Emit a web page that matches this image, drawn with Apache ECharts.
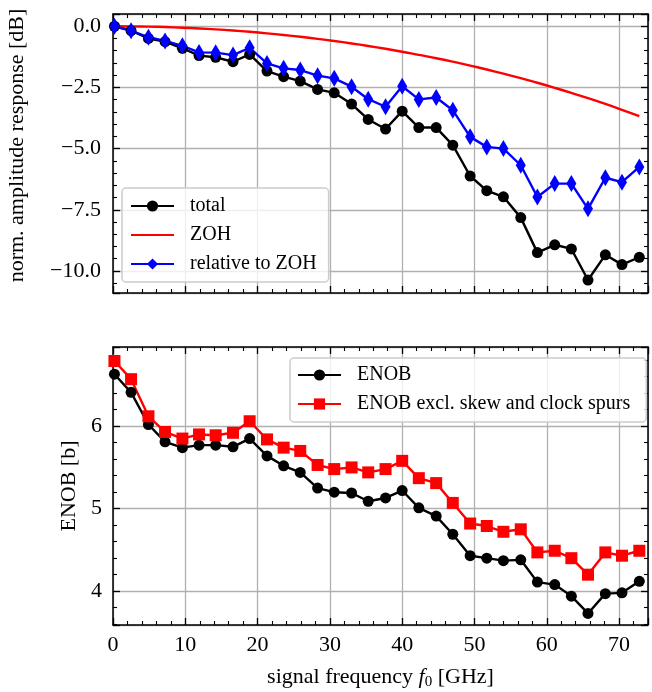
<!DOCTYPE html>
<html>
<head>
<meta charset="utf-8">
<script src="https://cdn.jsdelivr.net/npm/echarts@6/dist/echarts.min.js"></script>
<style>
  html, body { margin: 0; padding: 0; background: #fff; }
  #chart { width: 652px; height: 692px; }
</style>
</head>
<body>
<div id="chart"></div>
<script>
// ---- data ----
const freqGHz = [0.2, 2.5, 4.9, 7.2, 9.6, 11.9, 14.2, 16.6, 18.9, 21.3, 23.6, 25.9, 28.3, 30.6, 33.0, 35.3,
                 37.7, 40.0, 42.3, 44.7, 47.0, 49.4, 51.7, 54.0, 56.4, 58.7, 61.1, 63.4, 65.7, 68.1, 70.4, 72.8];

const totalDB = [0.0, -0.18, -0.5, -0.63, -0.9, -1.2, -1.27, -1.45, -1.15, -1.83, -2.06, -2.24, -2.58, -2.72, -3.18, -3.81,
                 -4.2, -3.47, -4.14, -4.14, -4.86, -6.12, -6.72, -6.97, -7.82, -9.25, -8.93, -9.1, -10.37, -9.34, -9.74, -9.44];

const zohDB = [0.0, -0.004, -0.015, -0.033, -0.059, -0.09, -0.128, -0.175, -0.228, -0.29, -0.357, -0.43, -0.515, -0.603, -0.703, -0.806,
               -0.922, -1.042, -1.171, -1.307, -1.449, -1.608, -1.769, -1.938, -2.12, -2.31, -2.516, -2.722, -2.938, -3.175, -3.415, -3.672];

const relativeDB = [0.0, -0.18, -0.45, -0.6, -0.8, -1.07, -1.08, -1.18, -0.88, -1.52, -1.72, -1.79, -2.02, -2.13, -2.47, -2.98,
                    -3.29, -2.45, -2.99, -2.91, -3.43, -4.52, -4.93, -5.0, -5.68, -6.98, -6.43, -6.43, -7.46, -6.19, -6.37, -5.75];

const enob = [6.63, 6.41, 6.02, 5.81, 5.74, 5.77, 5.77, 5.75, 5.85, 5.64, 5.52, 5.44, 5.25, 5.2, 5.19, 5.09,
              5.13, 5.22, 5.01, 4.91, 4.69, 4.43, 4.4, 4.37, 4.38, 4.11, 4.08, 3.94, 3.73, 3.97, 3.98, 4.12];

const enobExcl = [6.79, 6.57, 6.12, 5.93, 5.85, 5.9, 5.89, 5.92, 6.06, 5.84, 5.74, 5.7, 5.53, 5.48, 5.5, 5.44,
                  5.48, 5.58, 5.37, 5.31, 5.07, 4.82, 4.79, 4.72, 4.75, 4.47, 4.49, 4.4, 4.2, 4.47, 4.43, 4.49];

const seriesNamesTop = ['total', 'ZOH', 'relative to ZOH'];
const seriesNamesBottom = ['ENOB', 'ENOB excl. skew and clock spurs'];
const xTitle = 'signal frequency';
const yTitleTop = 'norm. amplitude response [dB]';
const yTitleBottom = 'ENOB [b]';

// ---- styling ----
const FONT = '"Liberation Serif", "DejaVu Serif", serif';
const pair = (xs, ys) => xs.map((x, i) => [x, ys[i]]);
const fmtMinus = (v, d) => (v < 0 ? '\u2212' : '') + Math.abs(v).toFixed(d);

function axisCommon(extra) {
  return Object.assign({
    axisLine: { show: true, onZero: false, lineStyle: { color: '#000', width: 1.5 } },
    axisTick: { show: true, inside: true, length: 7, lineStyle: { color: '#000', width: 1.3 } },
    minorTick: { show: true, splitNumber: 5, length: 4, lineStyle: { color: '#000', width: 1.1 } },
    splitLine: { show: false },
    axisLabel: { show: false },
  }, extra);
}

const gridLine = { show: true, lineStyle: { color: '#b0b0b0', width: 1.3 } };
const labelStyle = { show: true, color: '#000', fontFamily: FONT, fontSize: 22 };

const X_MIN = 0, X_MAX = 74;
const TOP_MIN = -10.9, TOP_MAX = 0.5;
const BOT_MIN = 3.59, BOT_MAX = 6.96;
const LW = 2.4;

const option = {
  animation: false,
  backgroundColor: '#fff',
  grid: [
    { left: 113, right: 4, top: 14, height: 279, outerBoundsMode: 'none', containLabel: false },
    { left: 113, right: 4, top: 347, height: 278, outerBoundsMode: 'none', containLabel: false }
  ],
  xAxis: [
    axisCommon({ type: 'value', gridIndex: 0, position: 'bottom', min: X_MIN, max: X_MAX, interval: 10, splitLine: gridLine }),
    axisCommon({ type: 'value', gridIndex: 0, position: 'top', min: X_MIN, max: X_MAX, interval: 10 }),
    axisCommon({
      type: 'value', gridIndex: 1, position: 'bottom', min: X_MIN, max: X_MAX, interval: 10, splitLine: gridLine,
      axisLabel: Object.assign({}, labelStyle, { margin: 9, showMaxLabel: false }),
      name: '{n|' + xTitle + ' }{i|f}{s|0}{n| [GHz]}',
      nameLocation: 'middle', nameGap: 40,
      nameTextStyle: {
        color: '#000', fontFamily: FONT, fontSize: 22,
        rich: {
          n: { fontFamily: FONT, fontSize: 22, color: '#000' },
          i: { fontFamily: FONT, fontSize: 22, fontStyle: 'italic', color: '#000' },
          s: { fontFamily: FONT, fontSize: 15, color: '#000', padding: [10, 0, 0, 0] }
        }
      }
    }),
    axisCommon({ type: 'value', gridIndex: 1, position: 'top', min: X_MIN, max: X_MAX, interval: 10 })
  ],
  yAxis: [
    axisCommon({
      type: 'value', gridIndex: 0, position: 'left', min: TOP_MIN, max: TOP_MAX, minInterval: 2.5, maxInterval: 2.5,
      splitLine: gridLine,
      axisLabel: Object.assign({}, labelStyle, { margin: 12, showMinLabel: false, showMaxLabel: false, formatter: v => fmtMinus(v, 1) }),
      name: yTitleTop, nameLocation: 'middle', nameGap: 85, nameRotate: 90,
      nameTextStyle: { color: '#000', fontFamily: FONT, fontSize: 22, padding: [0, 0, 0, 16] }
    }),
    axisCommon({ type: 'value', gridIndex: 0, position: 'right', min: TOP_MIN, max: TOP_MAX, minInterval: 2.5, maxInterval: 2.5 }),
    axisCommon({
      type: 'value', gridIndex: 1, position: 'left', min: BOT_MIN, max: BOT_MAX, minInterval: 1, maxInterval: 1,
      splitLine: gridLine,
      axisLabel: Object.assign({}, labelStyle, { margin: 11, showMinLabel: false, showMaxLabel: false, formatter: v => fmtMinus(v, 0) }),
      name: yTitleBottom, nameLocation: 'middle', nameGap: 33, nameRotate: 90,
      nameTextStyle: { color: '#000', fontFamily: FONT, fontSize: 22 }
    }),
    axisCommon({ type: 'value', gridIndex: 1, position: 'right', min: BOT_MIN, max: BOT_MAX, minInterval: 1, maxInterval: 1 })
  ],
  legend: [
    {
      data: [
        seriesNamesTop[0],
        { name: seriesNamesTop[1], itemStyle: { color: 'rgba(0,0,0,0)', borderWidth: 0, opacity: 0 } },
        seriesNamesTop[2]
      ],
      orient: 'vertical', left: 122, top: 188,
      itemWidth: 43, itemHeight: 14, itemGap: 9,
      padding: [8, 12, 8, 8],
      backgroundColor: 'rgba(255,255,255,0.8)',
      borderColor: '#cccccc', borderWidth: 1.5, borderRadius: 4,
      textStyle: { color: '#000', fontFamily: FONT, fontSize: 20, padding: [0, 0, 0, 11] }
    },
    {
      data: seriesNamesBottom,
      orient: 'vertical', left: 290, top: 358,
      itemWidth: 43, itemHeight: 14, itemGap: 9,
      padding: [7, 16, 8, 7],
      backgroundColor: 'rgba(255,255,255,0.8)',
      borderColor: '#cccccc', borderWidth: 1.5, borderRadius: 4,
      textStyle: { color: '#000', fontFamily: FONT, fontSize: 20, padding: [0, 0, 0, 11] }
    }
  ],
  series: [
    {
      name: seriesNamesTop[0], type: 'line', xAxisIndex: 0, yAxisIndex: 0,
      data: pair(freqGHz, totalDB),
      symbol: 'circle', symbolSize: 11, showSymbol: true,
      itemStyle: { color: '#000' }, lineStyle: { color: '#000', width: LW }, z: 3
    },
    {
      name: seriesNamesTop[1], type: 'line', xAxisIndex: 0, yAxisIndex: 0,
      data: pair(freqGHz, zohDB),
      symbol: 'none', smooth: true,
      itemStyle: { color: '#ff0000' }, lineStyle: { color: '#ff0000', width: LW }, z: 3
    },
    {
      name: seriesNamesTop[2], type: 'line', xAxisIndex: 0, yAxisIndex: 0,
      data: pair(freqGHz, relativeDB),
      symbol: 'diamond', symbolSize: [10, 17], showSymbol: true,
      itemStyle: { color: '#0000ff' }, lineStyle: { color: '#0000ff', width: LW }, z: 3
    },
    {
      name: seriesNamesBottom[0], type: 'line', xAxisIndex: 2, yAxisIndex: 2,
      data: pair(freqGHz, enob),
      symbol: 'circle', symbolSize: 11, showSymbol: true,
      itemStyle: { color: '#000' }, lineStyle: { color: '#000', width: LW }, z: 3
    },
    {
      name: seriesNamesBottom[1], type: 'line', xAxisIndex: 2, yAxisIndex: 2,
      data: pair(freqGHz, enobExcl),
      symbol: 'rect', symbolSize: 12, showSymbol: true,
      itemStyle: { color: '#ff0000' }, lineStyle: { color: '#ff0000', width: LW }, z: 3
    }
  ]
};

const chart = echarts.init(document.getElementById('chart'), null, { renderer: 'canvas' });
chart.setOption(option);
</script>
</body>
</html>
